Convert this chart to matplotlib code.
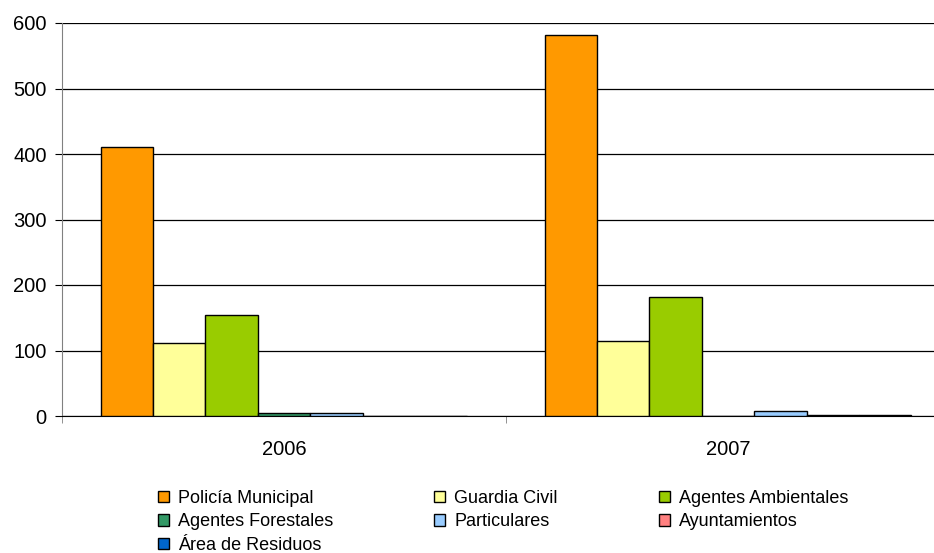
import numpy as np
import matplotlib.pyplot as plt
from matplotlib.patches import Patch

plt.rcParams['font.family'] = ['Liberation Sans', 'DejaVu Sans']

# Data
years = ['2006', '2007']
series = ['Policía Municipal', 'Guardia Civil', 'Agentes Ambientales',
          'Agentes Forestales', 'Particulares', 'Ayuntamientos',
          'Área de Residuos']
policia = [411, 582]
guardia = [111, 115]
ambientales = [154, 182]
forestales = [5, 0]
particulares = [5, 8]
ayuntamientos = [0, 2]
residuos = [0, 2]
colors = ['#FF9900', '#FFFF99', '#99CC00', '#339966', '#99CCFF', '#FF8080', '#0066CC']

values = [policia, guardia, ambientales, forestales, particulares, ayuntamientos, residuos]

fig = plt.figure(figsize=(9.34, 5.53), dpi=100)
ax = fig.add_axes([62 / 934, 1 - 416 / 553, 888 / 934, 393 / 553])

x = np.arange(len(years))
width = 0.118
n = len(series)
for i, (vals, c) in enumerate(zip(values, colors)):
    ax.bar(x + (i - (n - 1) / 2) * width, vals, width, color=c,
           edgecolor='black', linewidth=1, zorder=3)

ax.set_xlim(-0.5, 1.5)
ax.set_ylim(0, 600)
ax.set_yticks(range(0, 601, 100))
ax.grid(axis='y', color='black', linewidth=0.9, zorder=0)
ax.set_xticks([-0.5, 0.5, 1.5], minor=True)
ax.set_xticks(x)
ax.set_xticklabels(years, fontsize=14.5)
ax.tick_params(axis='x', which='major', length=0, pad=17)
ax.tick_params(axis='x', which='minor', length=5, color='#808080')
ax.tick_params(axis='y', length=5, color='black', labelsize=14.5, pad=6)
for s in ['top', 'right']:
    ax.spines[s].set_visible(False)
ax.spines['left'].set_color('#808080')
ax.spines['bottom'].set_color('black')

handles = [Patch(facecolor=c, edgecolor='black', linewidth=1) for c in colors]
order = [0, 3, 6, 1, 4, 2, 5]
fig.legend([handles[i] for i in order], [series[i] for i in order],
           ncol=3, loc='upper left', bbox_to_anchor=(158 / 934, 1 - 490 / 553),
           frameon=False, fontsize=13, handlelength=0.6, handleheight=0.6,
           handletextpad=0.5, columnspacing=5.6, labelspacing=0.36,
           borderaxespad=0, borderpad=0)

fig.savefig('out.png', dpi=100)
